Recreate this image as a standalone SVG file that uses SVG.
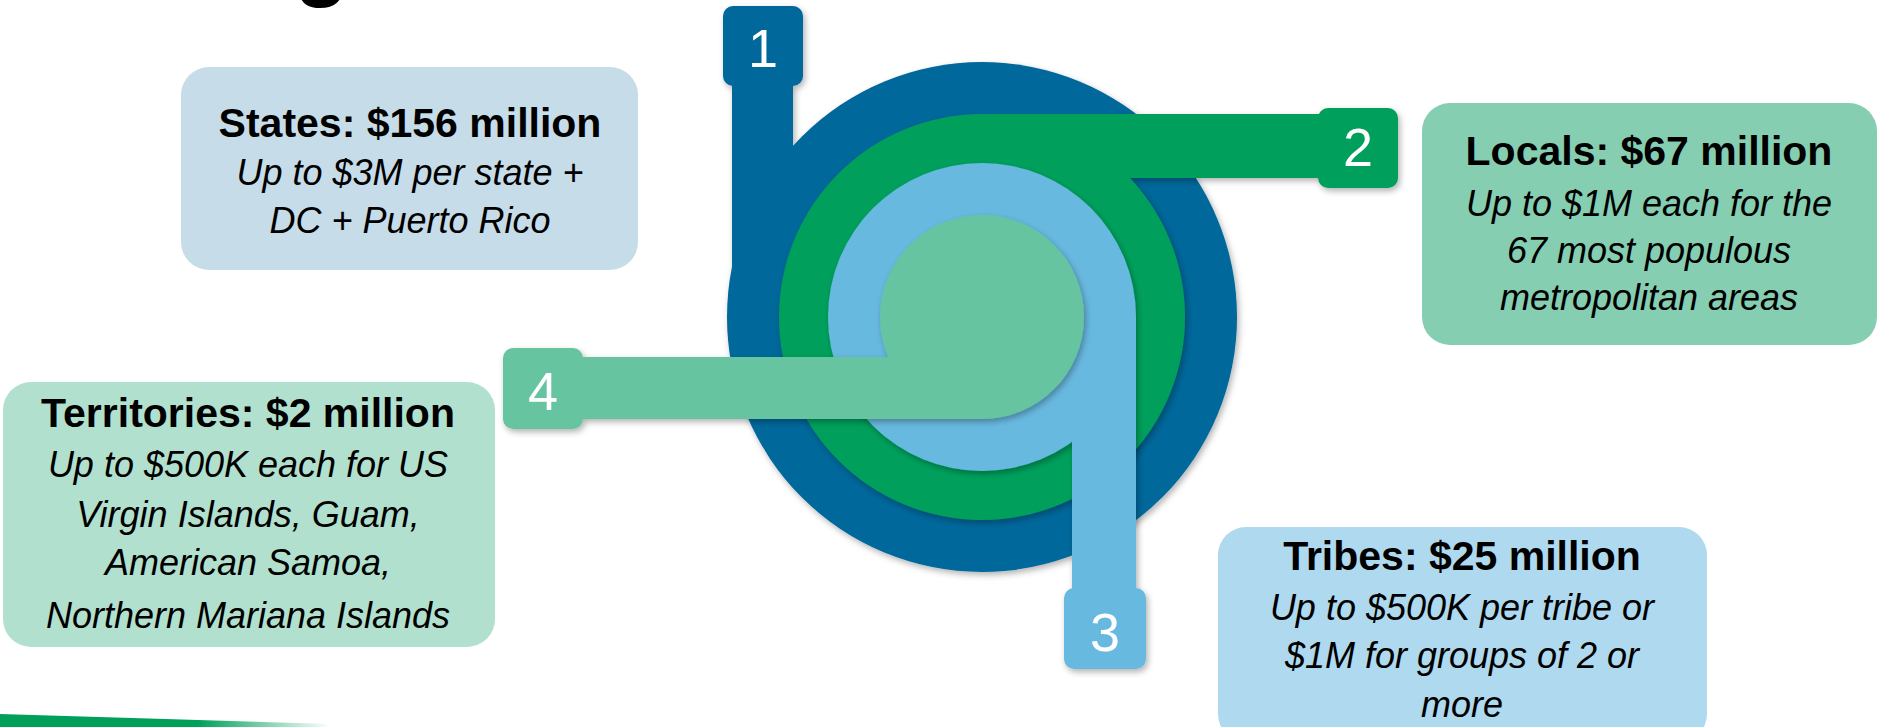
<svg xmlns="http://www.w3.org/2000/svg" width="1878" height="727" viewBox="0 0 1878 727">
<style>
.bold{font-family:"Liberation Sans",Arial,sans-serif;font-weight:bold;font-size:41px;fill:#000;text-anchor:middle}
.it{font-family:"Liberation Sans",Arial,sans-serif;font-style:italic;font-size:36px;fill:#000;text-anchor:middle}
.num{font-family:"Liberation Sans",Arial,sans-serif;font-size:54px;fill:#fff;text-anchor:middle}
.box{stroke:none}
</style>
<defs>
<filter id="sh" x="-10%" y="-10%" width="130%" height="130%">
<feDropShadow dx="2" dy="3" stdDeviation="3" flood-color="#000" flood-opacity="0.3"/>
</filter>
<linearGradient id="gbar" x1="0" y1="0" x2="1" y2="0">
<stop offset="0" stop-color="#00A05A"/>
<stop offset="0.6" stop-color="#00A05A"/>
<stop offset="1" stop-color="#ffffff"/>
</linearGradient>
</defs>
<rect width="1878" height="727" fill="#fff"/>
<text x="294" y="-11" style="font-family:'Liberation Sans',Arial,sans-serif;font-weight:bold;font-size:90px;fill:#000">g</text>
<polygon points="0,714 330,724 330,727 0,727" fill="url(#gbar)"/>

<g id="spiral">
<g id="band-1" fill="#05679B" filter="url(#sh)">
<circle cx="982" cy="317" r="255"/>
<rect x="732" y="80" width="61" height="240"/>
<rect x="723" y="6" width="80" height="80" rx="10"/>
<text class="num" x="763" y="67">1</text>
</g>
<g id="band-2" fill="#00A05B" filter="url(#sh)">
<circle cx="982" cy="317" r="203"/>
<rect x="982" y="114" width="340" height="64"/>
<rect x="1318" y="108" width="80" height="80" rx="10"/>
<text class="num" x="1358" y="166">2</text>
</g>
<g id="band-3" fill="#67B9E0" filter="url(#sh)">
<circle cx="982" cy="317" r="154"/>
<rect x="1072" y="317" width="64" height="276"/>
<rect x="1064" y="588" width="82" height="81" rx="10"/>
<text class="num" x="1105" y="651">3</text>
</g>
<g id="band-4" fill="#66C4A0" filter="url(#sh)">
<circle cx="982" cy="317" r="102"/>
<rect x="580" y="357" width="402" height="62"/>
<rect x="503" y="348" width="80" height="81" rx="10"/>
<text class="num" x="543" y="410">4</text>
</g>
</g>

<g id="connectors"></g>

<g id="node-states">
<rect class="box" x="181" y="67" width="457" height="203" rx="28" fill="#C6DCE8"/>
<text class="bold" x="410" y="137">States: $156 million</text>
<text class="it" x="410" y="185">Up to $3M per state +</text>
<text class="it" x="410" y="233">DC + Puerto Rico</text>
</g>
<g id="node-locals">
<rect class="box" x="1422" y="103" width="455" height="242" rx="28" fill="#85CEB2"/>
<text class="bold" x="1649" y="165">Locals: $67 million</text>
<text class="it" x="1649" y="216">Up to $1M each for the</text>
<text class="it" x="1649" y="263">67 most populous</text>
<text class="it" x="1649" y="310">metropolitan areas</text>
</g>
<g id="node-territories">
<rect class="box" x="3" y="382" width="492" height="265" rx="28" fill="#B2E0CE"/>
<text class="bold" x="248" y="427">Territories: $2 million</text>
<text class="it" x="248" y="477">Up to $500K each for US</text>
<text class="it" x="248" y="527">Virgin Islands, Guam,</text>
<text class="it" x="248" y="575">American Samoa,</text>
<text class="it" x="248" y="628">Northern Mariana Islands</text>
</g>
<g id="node-tribes">
<rect class="box" x="1218" y="527" width="489" height="215" rx="28" fill="#AFD9EF"/>
<text class="bold" x="1462" y="570">Tribes: $25 million</text>
<text class="it" x="1462" y="620">Up to $500K per tribe or</text>
<text class="it" x="1462" y="668">$1M for groups of 2 or</text>
<text class="it" x="1462" y="717">more</text>
</g>
</svg>
